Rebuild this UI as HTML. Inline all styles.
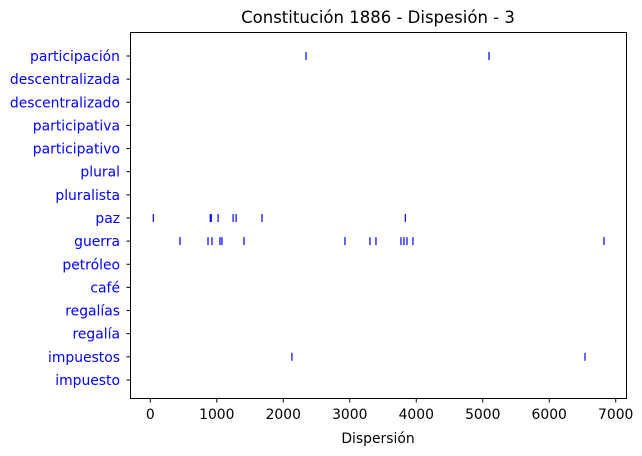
<!DOCTYPE html>
<html><head><meta charset="utf-8"><style>
body{margin:0;background:#fff;}
svg{display:block;font-family:"DejaVu Sans","Liberation Sans",sans-serif;}
</style></head><body>
<svg id="chart" width="642" height="456" viewBox="0 0 642 456" xmlns="http://www.w3.org/2000/svg">
<rect width="642" height="456" fill="#fff"/>
<text x="378" y="23" text-anchor="middle" font-size="16.5" fill="#000">Constitución 1886 - Dispesión - 3</text>
<g id="ylabels"></g><g id="xticks"></g><g id="marks"></g>
<rect x="130.5" y="32.5" width="496" height="366" fill="none" stroke="#000" stroke-width="1"/>
<text x="378" y="443" text-anchor="middle" font-size="13.9" fill="#000">Dispersión</text>
</svg>
<script>
const words = ["participación","descentralizada","descentralizado","participativa","participativo","plural","pluralista","paz","guerra","petróleo","café","regalías","regalía","impuestos","impuesto"];
const offsets_participacion = [2342, 5094];
const offsets_paz = [45, 902, 917, 1020, 1245, 1290, 1680, 3835];
const offsets_guerra = [447, 868, 928, 1048, 1078, 1409, 2928, 3304, 3394, 3770, 3815, 3860, 3950, 6823];
const offsets_impuestos = [2130, 6538];
const xTicks = [0, 1000, 2000, 3000, 4000, 5000, 6000, 7000];

const NS = "http://www.w3.org/2000/svg";
const x = v => 150.3 + v * 0.06649;
const y = i => 56 + i * 23.14;
function mk(tag, attrs, parent){const e=document.createElementNS(NS,tag);for(const k in attrs)e.setAttribute(k,attrs[k]);parent.appendChild(e);return e;}
const yl=document.getElementById('ylabels'), xt=document.getElementById('xticks'), mg=document.getElementById('marks');
words.forEach((w,i)=>{
  mk('line',{x1:126.5,x2:130.5,y1:y(i),y2:y(i),stroke:'#000'},yl);
  const t=mk('text',{x:120,y:y(i)+5,'text-anchor':'end','font-size':13.9,fill:'#0000ff'},yl);
  
  
  t.textContent=w;
});
xTicks.forEach(v=>{
  mk('line',{x1:x(v),x2:x(v),y1:398.5,y2:402.5,stroke:'#000'},xt);
  const t=mk('text',{x:x(v),y:419,'text-anchor':'middle','font-size':13.9,fill:'#000'},xt);
  
  
  t.textContent=v;
});
const series=[[0,offsets_participacion],[7,offsets_paz],[8,offsets_guerra],[13,offsets_impuestos]];
series.forEach(([row,arr])=>{
  arr.forEach(v=>{
    const l=mk('line',{x1:x(v),x2:x(v),y1:y(row)-4,y2:y(row)+4,stroke:'#0000ff','stroke-width':1.2},mg);
    
    
  });
});
</script>
</body></html>
